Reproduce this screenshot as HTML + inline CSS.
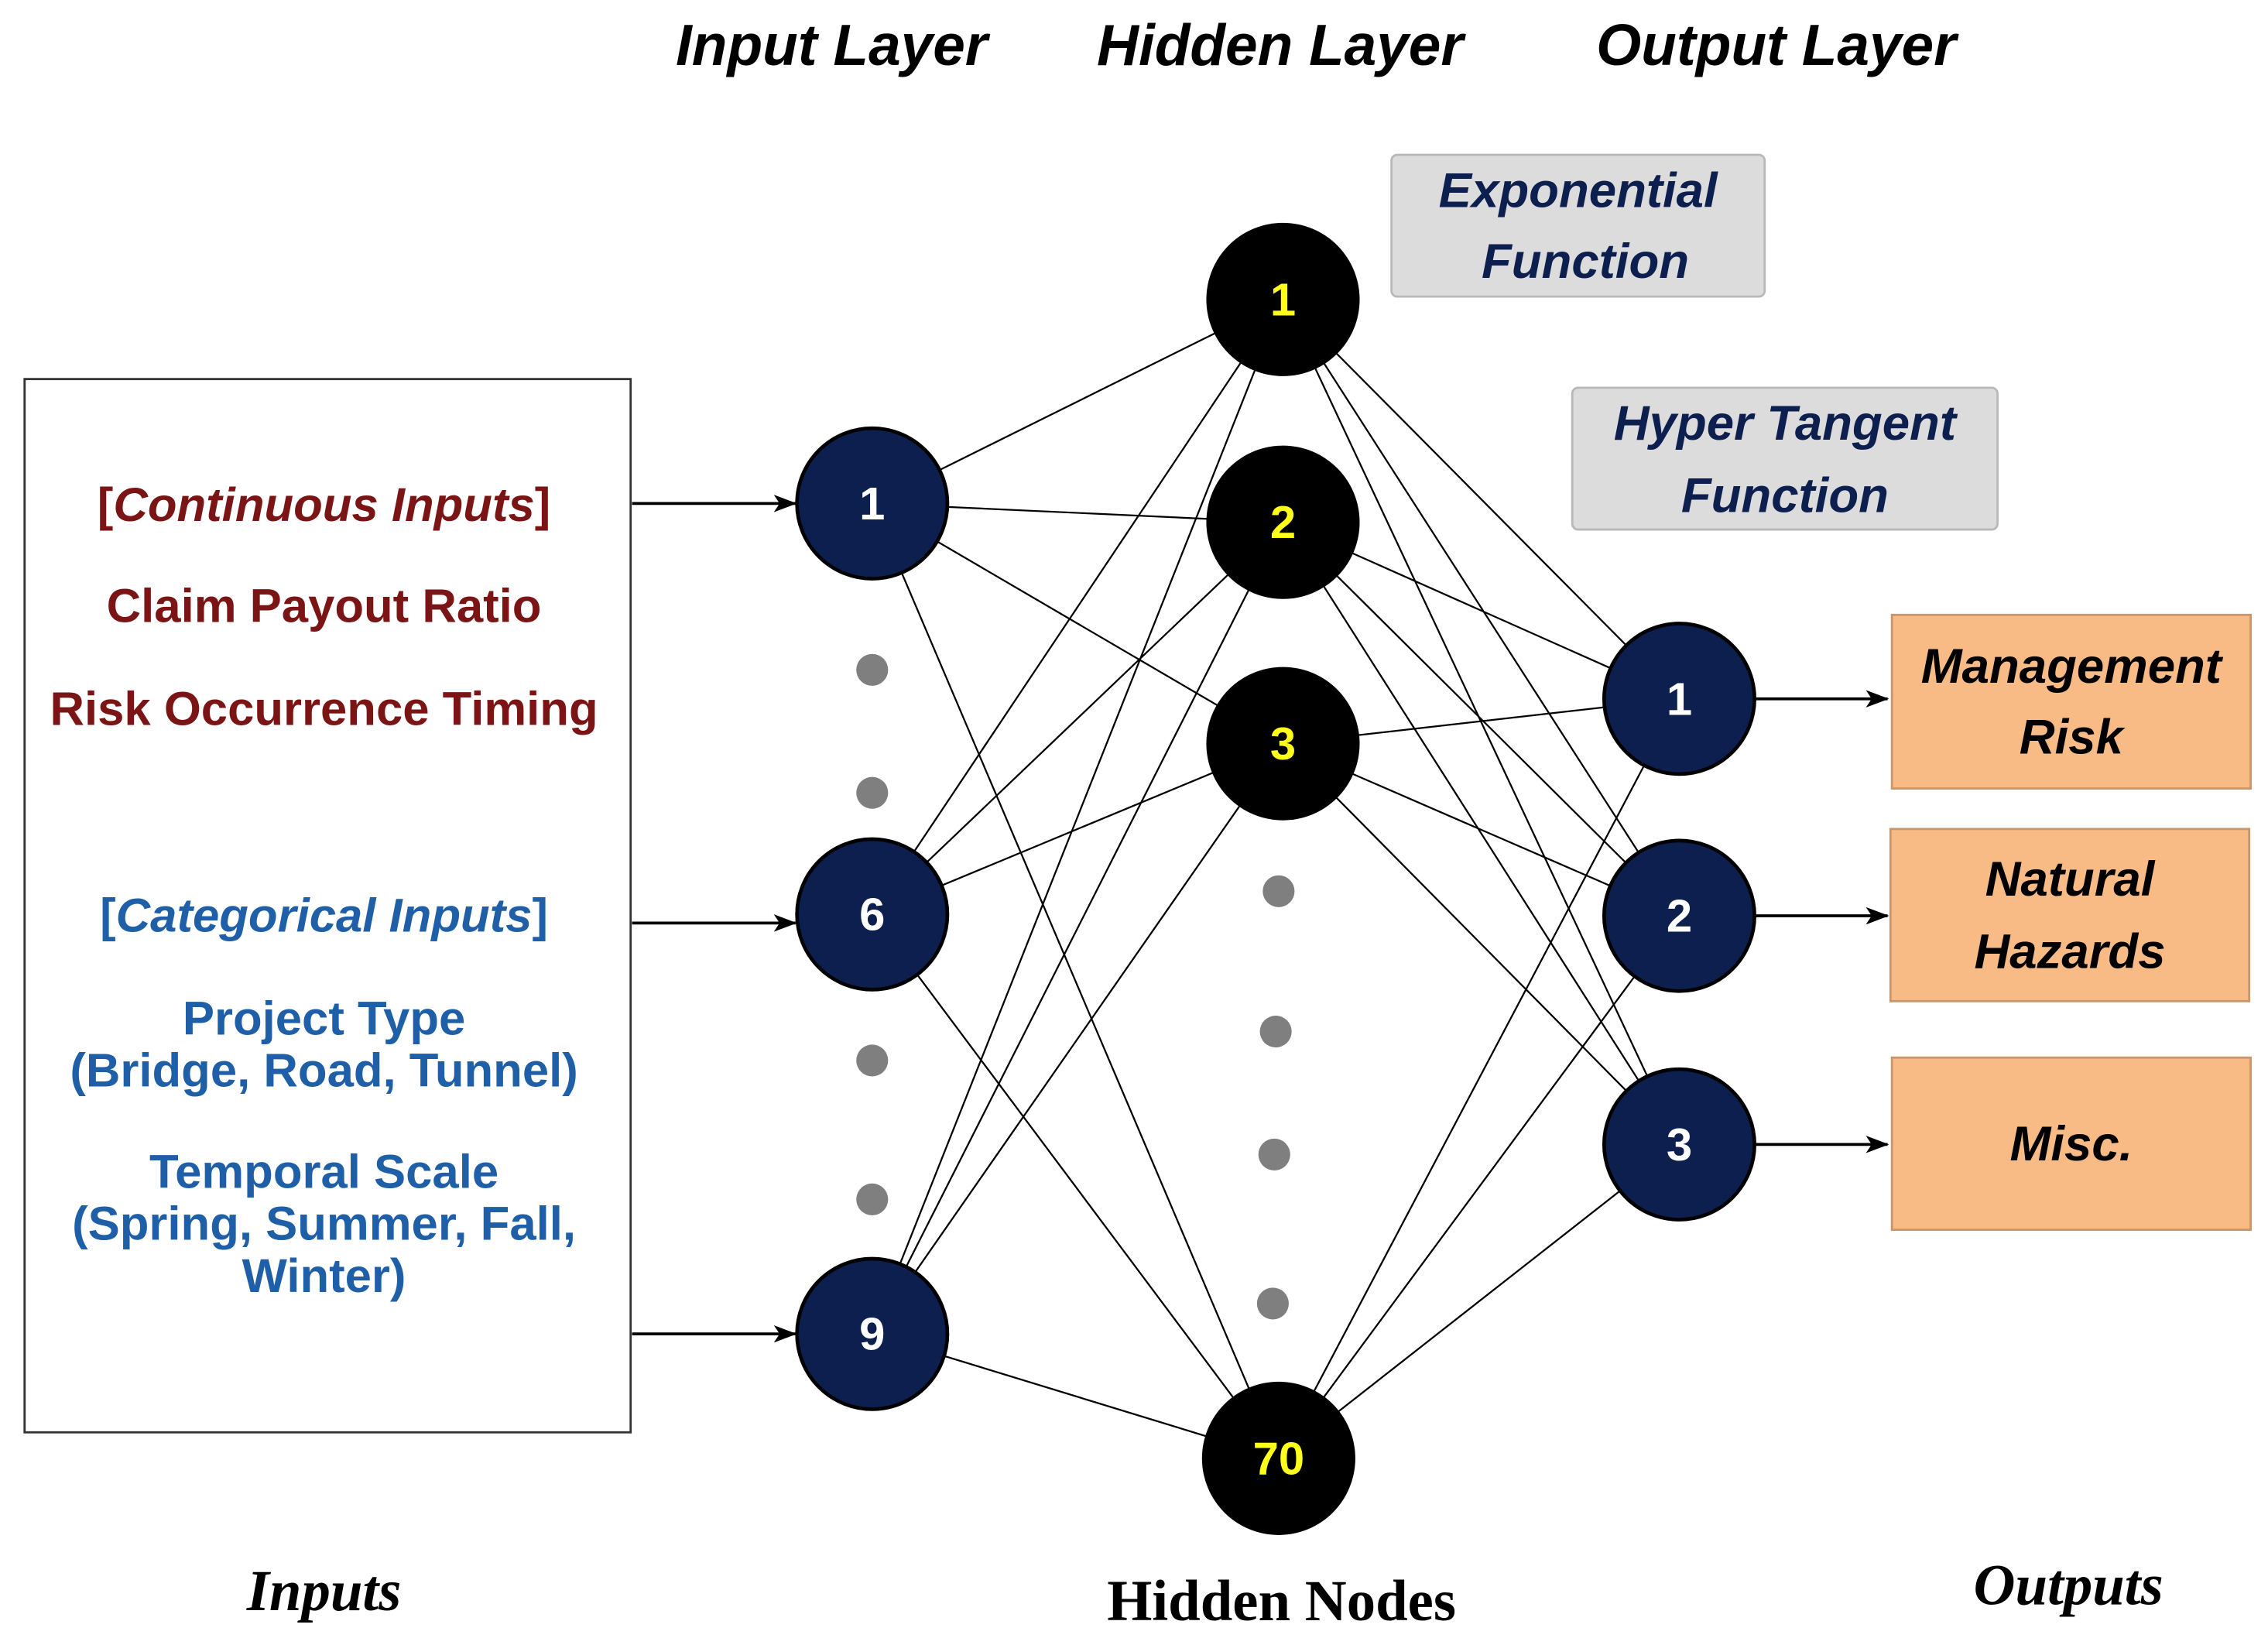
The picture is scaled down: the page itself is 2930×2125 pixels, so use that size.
<!DOCTYPE html>
<html><head><meta charset="utf-8"><style>
html,body{margin:0;padding:0;background:#fff;}
svg{display:block;}
</style></head><body>
<svg width="2930" height="2125" viewBox="0 0 1568 1137" preserveAspectRatio="none" xmlns="http://www.w3.org/2000/svg" font-family="Liberation Sans, sans-serif">
<defs>
<marker id="ah" markerWidth="16" markerHeight="12" refX="15" refY="6" orient="auto" markerUnits="userSpaceOnUse">
<path d="M0,0 L16,6 L0,12 L4,6 Z" fill="#000"/></marker>
</defs>
<rect width="1568" height="1137" fill="#fff"/>
<g font-weight="bold" font-style="italic" font-size="40" fill="#000" text-anchor="middle">
<text x="575" y="45">Input Layer</text>
<text x="885" y="45">Hidden Layer</text>
<text x="1228" y="45">Output Layer</text>
</g>
<rect x="17" y="262" width="419" height="728" fill="#fff" stroke="#333" stroke-width="1.5"/>
<g font-weight="bold" font-size="33" text-anchor="middle">
<text x="224" y="360" fill="#7b1414">[<tspan font-style="italic">Continuous Inputs</tspan>]</text>
<text x="224" y="430" fill="#7b1414">Claim Payout Ratio</text>
<text x="224" y="501" fill="#7b1414">Risk Occurrence Timing</text>
<text x="224" y="644" fill="#1f5fa8">[<tspan font-style="italic">Categorical Inputs</tspan>]</text>
<text x="224" y="715" fill="#1f5fa8">Project Type</text>
<text x="224" y="751" fill="#1f5fa8">(Bridge, Road, Tunnel)</text>
<text x="224" y="821" fill="#1f5fa8">Temporal Scale</text>
<text x="224" y="857" fill="#1f5fa8">(Spring, Summer, Fall,</text>
<text x="224" y="893" fill="#1f5fa8">Winter)</text>
</g>
<g stroke="#000" stroke-width="2" marker-end="url(#ah)">
<line x1="437" y1="348" x2="550" y2="348"/>
<line x1="437" y1="638" x2="550" y2="638"/>
<line x1="437" y1="922" x2="550" y2="922"/>
<line x1="1213" y1="483" x2="1305" y2="483"/>
<line x1="1213" y1="633" x2="1305" y2="633"/>
<line x1="1213" y1="791" x2="1305" y2="791"/>
</g>
<g stroke="#000" stroke-width="1.2">
<line x1="603" y1="348" x2="887" y2="207"/><line x1="603" y1="348" x2="887" y2="361"/><line x1="603" y1="348" x2="887" y2="514"/><line x1="603" y1="348" x2="884" y2="1008"/>
<line x1="603" y1="632" x2="887" y2="207"/><line x1="603" y1="632" x2="887" y2="361"/><line x1="603" y1="632" x2="887" y2="514"/><line x1="603" y1="632" x2="884" y2="1008"/>
<line x1="603" y1="922" x2="887" y2="207"/><line x1="603" y1="922" x2="887" y2="361"/><line x1="603" y1="922" x2="887" y2="514"/><line x1="603" y1="922" x2="884" y2="1008"/>
<line x1="887" y1="207" x2="1161" y2="483"/><line x1="887" y1="207" x2="1161" y2="633"/><line x1="887" y1="207" x2="1161" y2="791"/>
<line x1="887" y1="361" x2="1161" y2="483"/><line x1="887" y1="361" x2="1161" y2="633"/><line x1="887" y1="361" x2="1161" y2="791"/>
<line x1="887" y1="514" x2="1161" y2="483"/><line x1="887" y1="514" x2="1161" y2="633"/><line x1="887" y1="514" x2="1161" y2="791"/>
<line x1="884" y1="1008" x2="1161" y2="483"/><line x1="884" y1="1008" x2="1161" y2="633"/><line x1="884" y1="1008" x2="1161" y2="791"/>
</g>
<g fill="#7f7f7f">
<circle cx="603" cy="463" r="11"/><circle cx="603" cy="548" r="11"/><circle cx="603" cy="733" r="11"/><circle cx="603" cy="829" r="11"/>
<circle cx="884" cy="616" r="11"/><circle cx="882" cy="713" r="11"/><circle cx="881" cy="798" r="11"/><circle cx="880" cy="901" r="11"/>
</g>
<g fill="#0d1f4f" stroke="#000" stroke-width="2.5">
<circle cx="603" cy="348" r="52"/><circle cx="603" cy="632" r="52"/><circle cx="603" cy="922" r="52"/>
<circle cx="1161" cy="483" r="52"/><circle cx="1161" cy="633" r="52"/><circle cx="1161" cy="791" r="52"/>
</g>
<g fill="#000">
<circle cx="887" cy="207" r="53"/><circle cx="887" cy="361" r="53"/><circle cx="887" cy="514" r="53"/><circle cx="884" cy="1008" r="53"/>
</g>
<g font-weight="bold" font-size="32" text-anchor="middle" fill="#fff">
<text x="603" y="359">1</text><text x="603" y="643">6</text><text x="603" y="933">9</text>
<text x="1161" y="494">1</text><text x="1161" y="644">2</text><text x="1161" y="802">3</text>
</g>
<g font-weight="bold" font-size="32" text-anchor="middle" fill="#ffff1a">
<text x="887" y="218">1</text><text x="887" y="372">2</text><text x="887" y="525">3</text><text x="884" y="1019">70</text>
</g>
<g fill="#dcdcdc" stroke="#b8b8b8" stroke-width="1.5">
<rect x="962" y="107" width="258" height="98" rx="4"/>
<rect x="1087" y="268" width="294" height="98" rx="4"/>
</g>
<g font-weight="bold" font-style="italic" font-size="34" text-anchor="middle" fill="#0d1f4f">
<text x="1091" y="143">Exponential</text><text x="1096" y="192">Function</text>
<text x="1234" y="304">Hyper Tangent</text><text x="1234" y="354">Function</text>
</g>
<g fill="#f8bb86" stroke="#c9956a" stroke-width="1.5">
<rect x="1308" y="425" width="248" height="120"/>
<rect x="1307" y="573" width="248" height="119"/>
<rect x="1308" y="731" width="248" height="119"/>
</g>
<g font-weight="bold" font-style="italic" font-size="34" text-anchor="middle" fill="#000">
<text x="1432" y="472">Management</text><text x="1432" y="521">Risk</text>
<text x="1431" y="619">Natural</text><text x="1431" y="669">Hazards</text>
<text x="1432" y="802">Misc.</text>
</g>
<g font-family="Liberation Serif, serif" font-weight="bold" font-size="40" text-anchor="middle" fill="#000">
<text x="224" y="1113" font-style="italic">Inputs</text>
<text x="886" y="1120">Hidden Nodes</text>
<text x="1430" y="1109" font-style="italic">Outputs</text>
</g>
</svg>
</body></html>
